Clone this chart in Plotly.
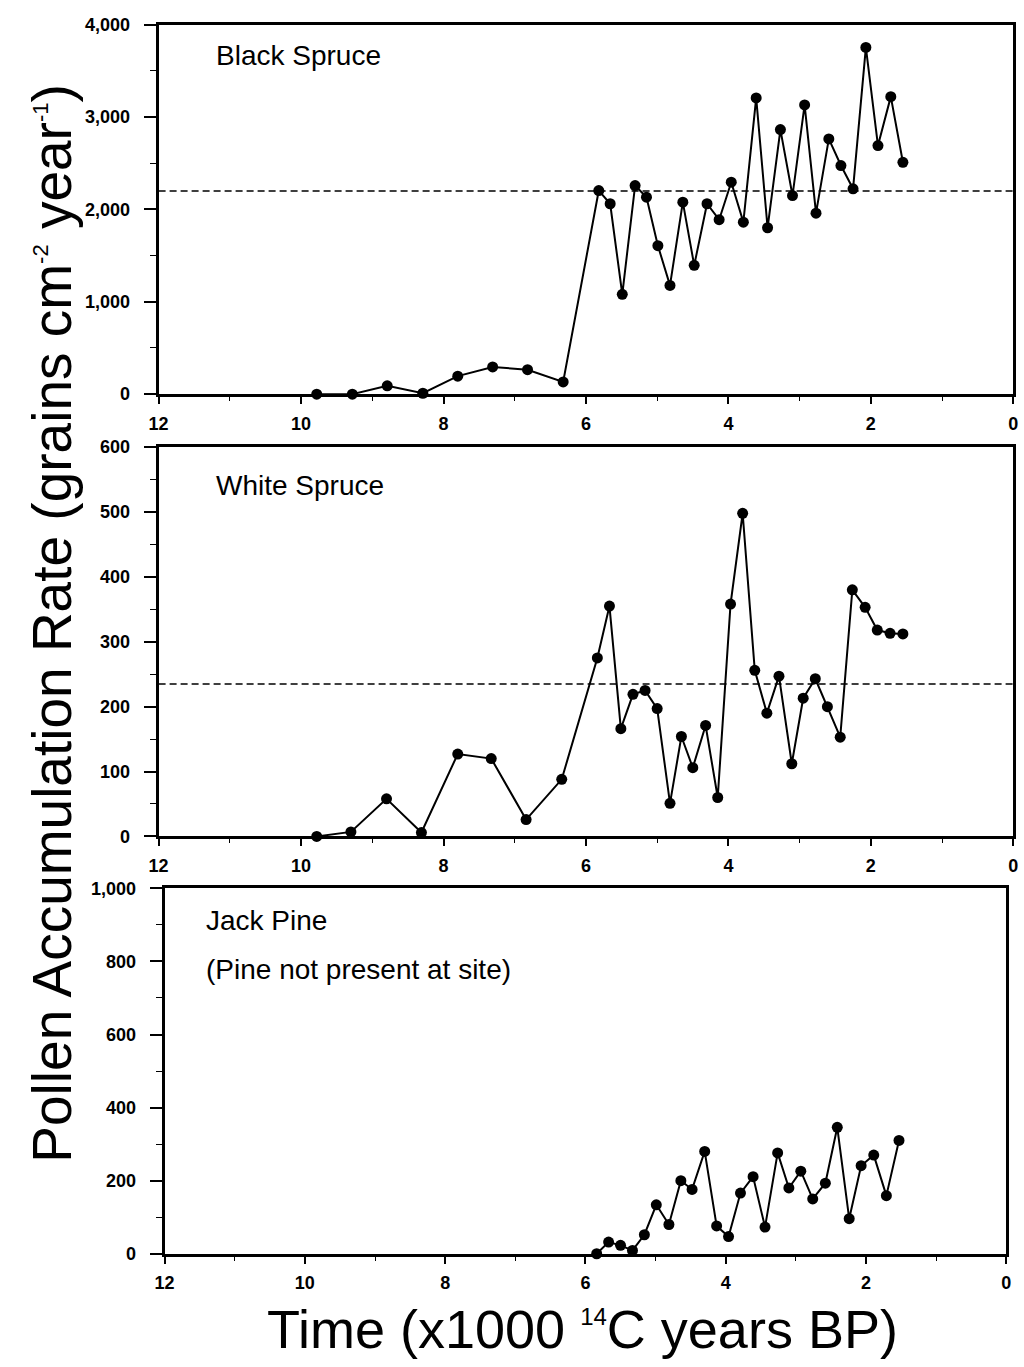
import plotly.graph_objects as go

# ---------------- data ----------------
black_x = [9.78, 9.28, 8.79, 8.29, 7.80, 7.31, 6.82, 6.32, 5.82, 5.66, 5.49, 5.31, 5.15, 4.99,
           4.82, 4.64, 4.48, 4.30, 4.13, 3.96, 3.79, 3.61, 3.45, 3.27, 3.10, 2.93, 2.77, 2.59,
           2.42, 2.25, 2.07, 1.90, 1.72, 1.55]
black_y = [0, 0, 91, 10, 195, 295, 265, 133, 2205, 2062, 1081, 2259, 2133, 1608,
           1178, 2079, 1395, 2062, 1889, 2295, 1863, 3208, 1802, 2865, 2151, 3132, 1960, 2764,
           2476, 2224, 3755, 2692, 3222, 2511]
black_ref = 2200

white_x = [9.78, 9.30, 8.80, 8.31, 7.80, 7.33, 6.84, 6.34, 5.84, 5.67, 5.51, 5.34, 5.17, 5.00,
           4.82, 4.66, 4.50, 4.32, 4.15, 3.97, 3.80, 3.63, 3.46, 3.29, 3.11, 2.95, 2.78, 2.61,
           2.43, 2.26, 2.08, 1.91, 1.73, 1.55]
white_y = [0, 7, 58, 6, 127, 120, 26, 88, 275, 355, 166, 219, 225, 197,
           51, 154, 106, 171, 60, 358, 498, 256, 190, 247, 112, 213, 243, 200,
           153, 380, 353, 318, 313, 312]
white_ref = 235

jack_x = [5.84, 5.67, 5.50, 5.33, 5.16, 4.99, 4.81, 4.64, 4.48, 4.30, 4.13, 3.96, 3.79,
          3.61, 3.44, 3.26, 3.10, 2.93, 2.76, 2.58, 2.41, 2.24, 2.07, 1.89, 1.71, 1.53]
jack_y = [0, 32, 23, 9, 52, 134, 80, 200, 176, 280, 76, 47, 166,
          211, 73, 276, 180, 226, 150, 193, 346, 96, 241, 270, 159, 310]

panel_names = ["Black Spruce", "White Spruce", "Jack Pine"]
panel_note = "(Pine not present at site)"
y_title = ("Pollen Accumulation Rate (grains cm<sup><span style='font-size:22px'>-2</span></sup>"
           " year<sup><span style='font-size:22px'>-1</span></sup>)")
x_title = "Time (x1000 <sup><span style='font-size:24px'>14</span></sup>C years BP)"

# ---------------- layout geometry ----------------
W, H = 1024, 1367
# the captured page shows the figure slightly shrunk and offset; compensate
OX, SX, OY, SY = 8.0, 0.988, 9.2, 0.987

def px_x(px):
    return ((px - OX) / SX) / W

def px_y(py):
    return 1 - ((py - OY) / SY) / H

def xd(a, b):
    return [px_x(a), px_x(b)]

def yd(top, bot):
    return [px_y(bot), px_y(top)]

FONT = "Liberation Sans, Arial, Helvetica, sans-serif"
tickfont = dict(family=FONT, size=18, color="black", weight="bold")

fig = go.Figure()

series = [(black_x, black_y, "x", "y"), (white_x, white_y, "x2", "y2"), (jack_x, jack_y, "x3", "y3")]
for xs, ys, xa, ya in series:
    fig.add_trace(go.Scatter(
        x=xs, y=ys, xaxis=xa, yaxis=ya, mode="lines+markers",
        line=dict(color="black", width=2),
        marker=dict(color="black", size=11),
        cliponaxis=False, showlegend=False,
    ))

# reference dashed lines
for ref, xa, ya in [(black_ref, "x", "y"), (white_ref, "x2", "y2")]:
    fig.add_trace(go.Scatter(
        x=[12, 0], y=[ref, ref], xaxis=xa, yaxis=ya, mode="lines",
        line=dict(color="black", width=1.5, dash="7px,4px"),
        showlegend=False, hoverinfo="skip",
    ))

def xaxis_cfg(domain, anchor):
    return dict(
        domain=domain, anchor=anchor, range=[12, 0], dtick=2, tick0=0,
        showline=True, linecolor="black", linewidth=3, mirror=True,
        ticks="outside", ticklen=7, tickwidth=1.5, tickcolor="black",
        minor=dict(dtick=1, ticks="outside", ticklen=4, tickwidth=1.2, tickcolor="black"),
        showgrid=False, zeroline=False, tickfont=tickfont, ticklabelstandoff=4,
    )

def yaxis_cfg(domain, anchor, rng, dt, mdt):
    return dict(
        domain=domain, anchor=anchor, range=rng, dtick=dt, tick0=0,
        showline=True, linecolor="black", linewidth=3, mirror=True,
        ticks="outside", ticklen=12, tickwidth=1.5, tickcolor="black",
        minor=dict(dtick=mdt, ticks="outside", ticklen=6, tickwidth=1.2, tickcolor="black"),
        showgrid=False, zeroline=False, tickformat=",", tickfont=tickfont,
        ticklabelstandoff=10,
    )

fig.update_layout(
    width=W, height=H, margin=dict(l=0, r=0, t=0, b=0),
    paper_bgcolor="white", plot_bgcolor="white",
    xaxis=xaxis_cfg(xd(157, 1014), "y"),
    xaxis2=xaxis_cfg(xd(157, 1014), "y2"),
    xaxis3=xaxis_cfg(xd(163, 1007), "y3"),
    yaxis=yaxis_cfg(yd(24, 394), "x", [0, 4000], 1000, 500),
    yaxis2=yaxis_cfg(yd(447, 837), "x2", [0, 600], 100, 50),
    yaxis3=yaxis_cfg(yd(889, 1255), "x3", [0, 1000], 200, 100),
)

annfont = dict(family=FONT, size=28, color="black")
anns = [
    (213, 55, panel_names[0]),
    (213, 485, panel_names[1]),
    (203, 921, panel_names[2]),
    (203, 970, panel_note),
]
for x, y, t in anns:
    fig.add_annotation(x=px_x(x), y=px_y(y), xref="paper", yref="paper", text=t,
                       showarrow=False, xanchor="left", yanchor="middle", font=annfont)

fig.add_annotation(x=px_x(50), y=px_y(624), xref="paper", yref="paper", text=y_title,
                   showarrow=False, textangle=-90, xanchor="center", yanchor="middle",
                   font=dict(family=FONT, size=55, color="black"))
fig.add_annotation(x=px_x(582), y=px_y(1330), xref="paper", yref="paper", text=x_title,
                   showarrow=False, xanchor="center", yanchor="middle",
                   font=dict(family=FONT, size=54, color="black"))

fig.write_html("out.html")
